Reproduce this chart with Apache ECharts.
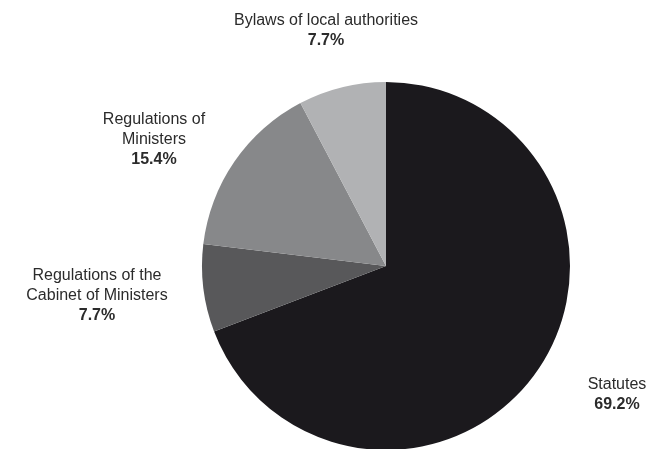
<!DOCTYPE html>
<html>
<head>
<meta charset="utf-8">
<script src="https://cdn.jsdelivr.net/npm/echarts@6/dist/echarts.min.js"></script>
<style>
  html, body { margin: 0; padding: 0; background: #fff; }
  #chart { width: 646px; height: 449px; }
</style>
</head>
<body>
<div id="chart"></div>
<script>
// slices, clockwise from 12 o'clock
const categories = ['Statutes', 'Regulations of the Cabinet of Ministers', 'Regulations of Ministers', 'Bylaws of local authorities'];
const labelLines = ['Statutes', 'Regulations of the\nCabinet of Ministers', 'Regulations of\nMinisters', 'Bylaws of local authorities'];
const shares = [69.2, 7.7, 15.4, 7.7];
const colors = ['#1b191d', '#58585a', '#87888a', '#b1b2b4'];

// label anchor points (centre of each text block)
const labelPos = [[617, 395], [97, 296], [154, 140], [326, 31]];

const myChart = echarts.init(document.getElementById('chart'));

const data = categories.map((name, i) => ({
    name: name,
    value: shares[i],
    itemStyle: { color: colors[i] }
}));

const font = 'Liberation Sans, Arial, sans-serif';

const option = {
    animation: false,
    textStyle: { fontFamily: font },
    series: [
        {
            type: 'pie',
            center: [386, 266],
            radius: 184,
            startAngle: 90,
            clockwise: true,
            avoidLabelOverlap: false,
            data: data,
            itemStyle: { borderWidth: 0 },
            label: {
                show: true,
                position: 'outside',
                formatter: (p) => '{n|' + labelLines[p.dataIndex].split('\n').join('}\n{n|') + '}\n{p|' + p.value.toFixed(1) + '%}',
                rich: {
                    n: { fontSize: 16, color: '#2b2b2b', lineHeight: 20, align: 'center', fontFamily: font },
                    p: { fontSize: 16, fontWeight: 'bold', color: '#2b2b2b', lineHeight: 20, align: 'center', fontFamily: font }
                }
            },
            labelLine: { show: false },
            labelLayout: (params) => ({
                x: labelPos[params.dataIndex][0],
                y: labelPos[params.dataIndex][1],
                align: 'center',
                verticalAlign: 'middle'
            }),
            emphasis: { disabled: true }
        }
    ]
};

myChart.setOption(option);
</script>
</body>
</html>
